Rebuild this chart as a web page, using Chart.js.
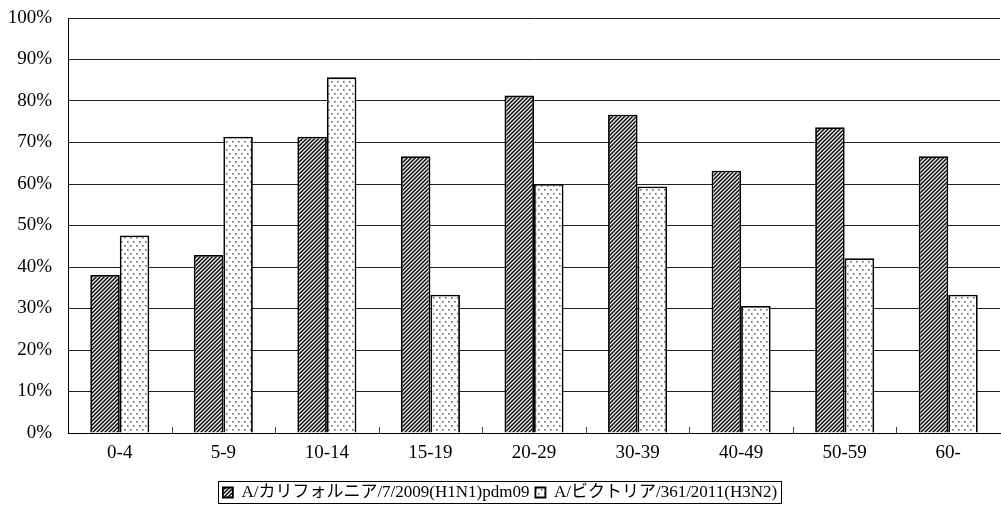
<!DOCTYPE html>
<html>
<head>
<meta charset="utf-8">
<script src="https://cdn.jsdelivr.net/npm/chart.js@4"></script>
<style>
  html, body { margin: 0; padding: 0; background: #fff; }
  #wrap { width: 1001px; height: 515px; }
</style>
</head>
<body>
<div id="wrap"><canvas id="c" width="1001" height="515"></canvas></div>
<script>
// Age groups
const ageGroups = ['0-4', '5-9', '10-14', '15-19', '20-29', '30-39', '40-49', '50-59', '60-'];
// Share of subjects (%) per strain and age group
const californiaH1N1 = [38.1, 42.9, 71.4, 66.7, 81.3, 76.7, 63.2, 73.7, 66.7];
const victoriaH3N2 = [47.6, 71.4, 85.7, 33.3, 60.0, 59.4, 30.6, 42.1, 33.3];
const seriesNames = ['A/カリフォルニア/7/2009(H1N1)pdm09', 'A/ビクトリア/361/2011(H3N2)'];
const yTicks = [0, 10, 20, 30, 40, 50, 60, 70, 80, 90, 100];

const SERIF = '"Liberation Serif", "Times New Roman", "Noto Sans CJK JP", serif';

// Diagonal hatch fill ( / / / )
function makeHatch() {
  const t = document.createElement('canvas');
  t.width = 4; t.height = 4;
  const g = t.getContext('2d');
  const img = g.createImageData(4, 4);
  const shade = [15, 90, 240, 140];
  for (let y = 0; y < 4; y++) {
    for (let x = 0; x < 4; x++) {
      const v = shade[(x + y) % 4];
      const i = (y * 4 + x) * 4;
      img.data[i] = img.data[i + 1] = img.data[i + 2] = v;
      img.data[i + 3] = 255;
    }
  }
  g.putImageData(img, 0, 0);
  return g.createPattern(t, 'repeat');
}

// Staggered dot fill
function makeDots() {
  const w = 6, h = 8;
  const t = document.createElement('canvas');
  t.width = w; t.height = h;
  const g = t.getContext('2d');
  g.fillStyle = '#ffffff';
  g.fillRect(0, 0, w, h);
  const dot = (x, y) => {
    g.fillStyle = '#666666'; g.fillRect(x, y, 1, 1);
    g.fillStyle = '#a0a0a0'; g.fillRect(x + 1, y, 1, 1); g.fillRect(x, y + 1, 1, 1);
    g.fillStyle = '#cccccc'; g.fillRect(x + 1, y + 1, 1, 1);
  };
  dot(1, 1);
  dot(4, 5);
  return g.createPattern(t, 'repeat');
}

const hatch = makeHatch();
const dots = makeDots();

// Short upward tick marks at category boundaries, plus a frame around the legend
const decorations = {
  id: 'decorations',
  afterDraw(chart) {
    const ctx = chart.ctx;
    const xs = chart.scales.x;
    const area = chart.chartArea;
    const n = ageGroups.length;
    ctx.save();
    ctx.strokeStyle = '#444';
    ctx.lineWidth = 1;
    for (let i = 1; i < n; i++) {
      const bx = Math.round((xs.getPixelForValue(i - 1) + xs.getPixelForValue(i)) / 2) + 0.5;
      ctx.beginPath();
      ctx.moveTo(bx, area.bottom);
      ctx.lineTo(bx, area.bottom - 6);
      ctx.stroke();
    }
    const lg = chart.legend;
    if (lg && lg.legendHitBoxes && lg.legendHitBoxes.length) {
      const boxes = lg.legendHitBoxes;
      const first = boxes[0], last = boxes[boxes.length - 1];
      const x0 = Math.round(first.left - 5) + 0.5;
      const x1 = Math.round(last.left + last.width + 4) + 0.5;
      const y0 = Math.round(first.top - 3) + 0.5;
      const y1 = Math.round(first.top + first.height + 2) + 0.5;
      ctx.strokeStyle = '#000';
      ctx.strokeRect(x0, y0, x1 - x0, y1 - y0);
    }
    ctx.restore();
  }
};

new Chart(document.getElementById('c'), {
  type: 'bar',
  data: {
    labels: ageGroups,
    datasets: [
      {
        label: seriesNames[0],
        data: californiaH1N1,
        backgroundColor: hatch,
        borderColor: '#000',
        borderWidth: 1.8,
        borderSkipped: 'bottom',
        categoryPercentage: 0.57,
        barPercentage: 1.0
      },
      {
        label: seriesNames[1],
        data: victoriaH3N2,
        backgroundColor: dots,
        borderColor: '#000',
        borderWidth: 1.8,
        borderSkipped: 'bottom',
        categoryPercentage: 0.57,
        barPercentage: 1.0
      }
    ]
  },
  options: {
    responsive: false,
    devicePixelRatio: 1,
    animation: false,
    layout: { padding: { top: 18, right: 1, left: 0, bottom: 4 } },
    plugins: {
      tooltip: { enabled: false },
      legend: {
        position: 'bottom',
        align: 'center',
        labels: {
          color: '#000',
          font: { family: SERIF, size: 17 },
          boxWidth: 10,
          boxHeight: 10,
          padding: 6
        }
      }
    },
    scales: {
      x: {
        grid: { display: false, drawTicks: false },
        border: { display: true, color: '#000', width: 1 },
        ticks: {
          color: '#000',
          font: { family: SERIF, size: 19 },
          padding: 9,
          maxRotation: 0
        },
        afterFit(scale) { scale.height = 45; }
      },
      y: {
        min: 0,
        max: 100,
        afterBuildTicks(scale) { scale.ticks = yTicks.map(v => ({ value: v })); },
        grid: { color: '#222', lineWidth: 1, drawTicks: false },
        border: { display: true, color: '#000', width: 1 },
        ticks: {
          color: '#000',
          font: { family: SERIF, size: 19 },
          padding: 16,
          callback: v => v + '%'
        },
        afterFit(scale) {
          scale.width = 68;
          scale.paddingTop = 0;
          scale.paddingBottom = 0;
        }
      }
    }
  },
  plugins: [decorations]
});
</script>
</body>
</html>
